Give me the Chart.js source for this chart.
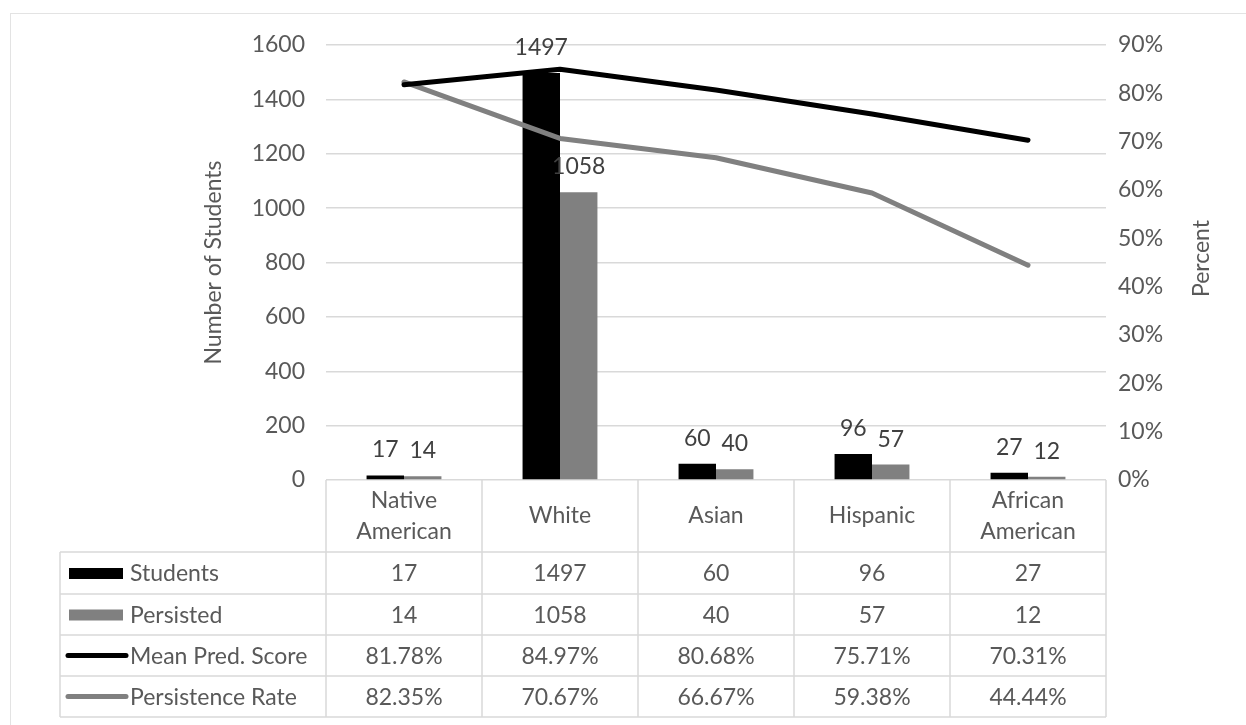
<!DOCTYPE html>
<html>
<head>
<meta charset="utf-8">
<script src="https://cdn.jsdelivr.net/npm/chart.js@4"></script>
<style>
html, body { margin: 0; padding: 0; background: #fff; }
canvas { display: block; }
</style>
</head>
<body>
<canvas id="myChart" width="1246" height="725"></canvas>
<script>
// data
const categories = [['Native', 'American'], ['White'], ['Asian'], ['Hispanic'], ['African', 'American']]
const students = [17, 1497, 60, 96, 27]
const persisted = [14, 1058, 40, 57, 12]
const meanPredScore = [81.78, 84.97, 80.68, 75.71, 70.31]
const persistenceRate = [82.35, 70.67, 66.67, 59.38, 44.44]
const countTicks = [0, 200, 400, 600, 800, 1000, 1200, 1400, 1600]
const percentTicks = [0, 10, 20, 30, 40, 50, 60, 70, 80, 90]

const FONT = "Lato, 'Open Sans', sans-serif"
const FSIZE = 23
const textGrey = '#595959'
const lineGrey = '#d9d9d9'

const tableRows = [
    { label: 'Students', values: students, kind: 'bar', color: '#000000', fmt: v => String(v) },
    { label: 'Persisted', values: persisted, kind: 'bar', color: '#808080', fmt: v => String(v) },
    { label: 'Mean Pred. Score', values: meanPredScore, kind: 'line', color: '#000000', fmt: v => v.toFixed(2) + '%' },
    { label: 'Persistence Rate', values: persistenceRate, kind: 'line', color: '#808080', fmt: v => v.toFixed(2) + '%' }
]

// labels on top of the bars
const barLabels = {
    id: 'barLabels',
    afterDatasetsDraw(chart) {
        const ctx = chart.ctx
        ctx.save()
        ctx.font = FSIZE + 'px ' + FONT
        ctx.fillStyle = '#404040'
        ctx.textAlign = 'center'
        ctx.textBaseline = 'alphabetic'
        chart.data.datasets.forEach((ds, i) => {
            if (ds.type !== 'bar') return
            chart.getDatasetMeta(i).data.forEach((bar, j) => {
                ctx.fillText(String(ds.data[j]), bar.x, bar.y - 18)
            })
        })
        ctx.restore()
    }
}

// excel style data table under the plot + axis titles + sheet frame
const dataTable = {
    id: 'dataTable',
    afterDraw(chart) {
        const ctx = chart.ctx
        const area = chart.chartArea
        const xs = chart.scales.x
        const n = categories.length
        const colW = (area.right - area.left) / n
        const tableLeft = 60
        const headTop = area.bottom
        const rowLines = [552, 594, 635, 676, 717]

        ctx.save()
        // frame of the sheet
        ctx.strokeStyle = '#e3e3e3'
        ctx.lineWidth = 1
        ctx.beginPath()
        ctx.moveTo(10, 13.5); ctx.lineTo(1246, 13.5)
        ctx.moveTo(10.5, 13); ctx.lineTo(10.5, 725)
        ctx.stroke()

        // grid of the table
        ctx.strokeStyle = lineGrey
        ctx.lineWidth = 1.5
        ctx.beginPath()
        rowLines.forEach(y => { ctx.moveTo(tableLeft, y); ctx.lineTo(area.right, y) })
        ctx.moveTo(tableLeft, rowLines[0]); ctx.lineTo(tableLeft, rowLines[rowLines.length - 1])
        for (let i = 0; i <= n; i++) {
            const x = area.left + i * colW
            ctx.moveTo(x, headTop); ctx.lineTo(x, rowLines[rowLines.length - 1])
        }
        ctx.stroke()

        ctx.font = FSIZE + 'px ' + FONT
        ctx.fillStyle = textGrey
        ctx.textAlign = 'center'
        ctx.textBaseline = 'middle'
        // header
        categories.forEach((c, i) => {
            const x = xs.getPixelForValue(i)
            const mid = (headTop + rowLines[0]) / 2
            const lh = 31
            c.forEach((line, k) => {
                ctx.fillText(line, x, mid + (k - (c.length - 1) / 2) * lh)
            })
        })
        // rows
        tableRows.forEach((row, r) => {
            const y = (rowLines[r] + rowLines[r + 1]) / 2
            ctx.textAlign = 'center'
            ctx.fillStyle = textGrey
            row.values.forEach((v, i) => {
                ctx.fillText(row.fmt(v), xs.getPixelForValue(i), y + 1)
            })
            // legend key
            if (row.kind === 'bar') {
                ctx.fillStyle = row.color
                ctx.fillRect(69, y - 5, 54, 11)
            } else {
                ctx.strokeStyle = row.color
                ctx.lineWidth = 5
                ctx.lineCap = 'round'
                ctx.beginPath()
                ctx.moveTo(68, y); ctx.lineTo(126, y)
                ctx.stroke()
            }
            ctx.fillStyle = textGrey
            ctx.textAlign = 'left'
            ctx.fillText(row.label, 130, y + 1)
        })

        // axis titles (both read bottom to top)
        const midY = (area.top + area.bottom) / 2
        ctx.textAlign = 'center'
        ctx.fillStyle = textGrey
        ctx.translate(214, midY)
        ctx.rotate(-Math.PI / 2)
        ctx.fillText('Number of Students', 0, 0)
        ctx.rotate(Math.PI / 2)
        ctx.translate(-214, -midY)
        ctx.translate(1202, midY - 4)
        ctx.rotate(-Math.PI / 2)
        ctx.fillText('Percent', 0, 0)
        ctx.restore()
    }
}

const ctxC = document.getElementById('myChart').getContext('2d')
const config = {
    type: 'bar',
    data: {
        labels: categories,
        datasets: [
            {
                type: 'line', label: 'Mean Pred. Score', data: meanPredScore, yAxisID: 'y1',
                borderColor: '#000000', borderWidth: 5, pointRadius: 0, tension: 0,
                borderCapStyle: 'round', borderJoinStyle: 'round', order: 0
            },
            {
                type: 'line', label: 'Persistence Rate', data: persistenceRate, yAxisID: 'y1',
                borderColor: '#808080', borderWidth: 5, pointRadius: 0, tension: 0,
                borderCapStyle: 'round', borderJoinStyle: 'round', order: 0
            },
            {
                type: 'bar', label: 'Students', data: students, yAxisID: 'y',
                backgroundColor: '#000000', categoryPercentage: 0.48, barPercentage: 1, order: 1
            },
            {
                type: 'bar', label: 'Persisted', data: persisted, yAxisID: 'y',
                backgroundColor: '#808080', categoryPercentage: 0.48, barPercentage: 1, order: 1
            }
        ]
    },
    options: {
        responsive: false,
        animation: false,
        layout: { padding: { left: 0, right: 0, top: 45, bottom: 245 } },
        plugins: { legend: { display: false }, tooltip: { enabled: false } },
        scales: {
            x: { display: false },
            y: {
                position: 'left', min: 0, max: 1600,
                afterBuildTicks: s => { s.ticks = countTicks.map(v => ({ value: v })) },
                afterFit: s => { s.width = 326 },
                grid: { color: lineGrey, lineWidth: 1.5, drawTicks: false },
                border: { display: false },
                ticks: { color: textGrey, font: { family: FONT, size: FSIZE }, padding: 21, callback: v => String(v) }
            },
            y1: {
                position: 'right', min: 0, max: 90,
                afterBuildTicks: s => { s.ticks = percentTicks.map(v => ({ value: v })) },
                afterFit: s => { s.width = 140 },
                grid: { drawOnChartArea: false, drawTicks: false },
                border: { display: false },
                ticks: { color: textGrey, font: { family: FONT, size: FSIZE }, padding: 12, callback: v => v + '%' }
            }
        }
    },
    plugins: [barLabels, dataTable]
}
const myChart = new Chart(ctxC, config)
</script>
</body>
</html>
